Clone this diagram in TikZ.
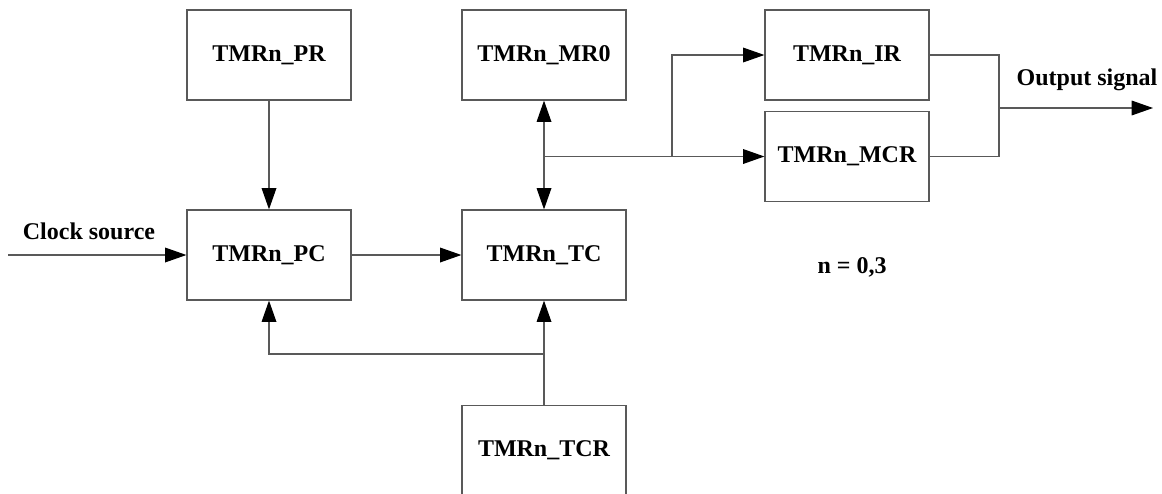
\documentclass[tikz,border=0pt]{standalone}
\usepackage{fontspec}
\setmainfont{Liberation Serif}
\usetikzlibrary{positioning,arrows.meta}
\tikzset{
  blk/.style  = {draw=black!65, line width=0.9pt, minimum width=123pt,
                 minimum height=67.5pt, inner sep=0pt,
                 font=\fontsize{18}{20}\selectfont\bfseries},
  ln/.style   = {draw=black!65, line width=0.9pt},
  ar/.style   = {ln, -{Triangle[length=16pt,width=11pt,color=black]}},
  arr/.style  = {ln, {Triangle[length=16pt,width=11pt,color=black]}-{Triangle[length=16pt,width=11pt,color=black]}},
  lbl/.style  = {font=\fontsize{18}{20}\selectfont\bfseries, inner sep=0pt},
}
\begin{document}
\begin{tikzpicture}[x=0.75pt, y=-0.75pt]
  \useasboundingbox (0,0) rectangle (1162,493);
  % registers
  \node[blk] (pr)  at (269,55)    {TMRn\_PR};
  \node[blk] (pc)  at (269,255)   {TMRn\_PC};
  \node[blk] (mr0) at (544,55)    {TMRn\_MR0};
  \node[blk] (tc)  at (544,255)   {TMRn\_TC};
  \node[blk] (tcr) at (544,450.5) {TMRn\_TCR};
  \node[blk] (ir)  at (847,55)    {TMRn\_IR};
  \node[blk] (mcr) at (847,156.5) {TMRn\_MCR};
  % clock input
  \coordinate (clk) at (8,255);
  \draw[ar] (clk) -- (pc);
  \node[lbl] (clklbl) at (89,231) {Clock source};
  \draw[ar] (pr) -- (pc);
  \draw[ar] (pc) -- (tc);
  \draw[arr] (mr0) -- (tc);
  % compare outputs
  \coordinate (j1) at (mcr.west -| tc.north);
  \coordinate (j2) at (672,156.5);
  \draw[ar] (j1) -- (mcr.west);
  \draw[ar] (j2) |- (ir.west);
  \coordinate (j3) at (999,108);
  \coordinate (out) at (1153,108);
  \draw[ln] (ir.east) -| (j3) |- (mcr.east);
  \draw[ar] (j3) -- (out);
  \node[lbl] (outlbl) at (1087,80) {Output signal};
  % control register
  \coordinate (j4) at (544,354);
  \draw[ar] (tcr) -- (tc);
  \draw[ar] (j4) -| (pc.south);
  \node[lbl] (nval) at (852,267) {n = 0,3};
\end{tikzpicture}
\end{document}
